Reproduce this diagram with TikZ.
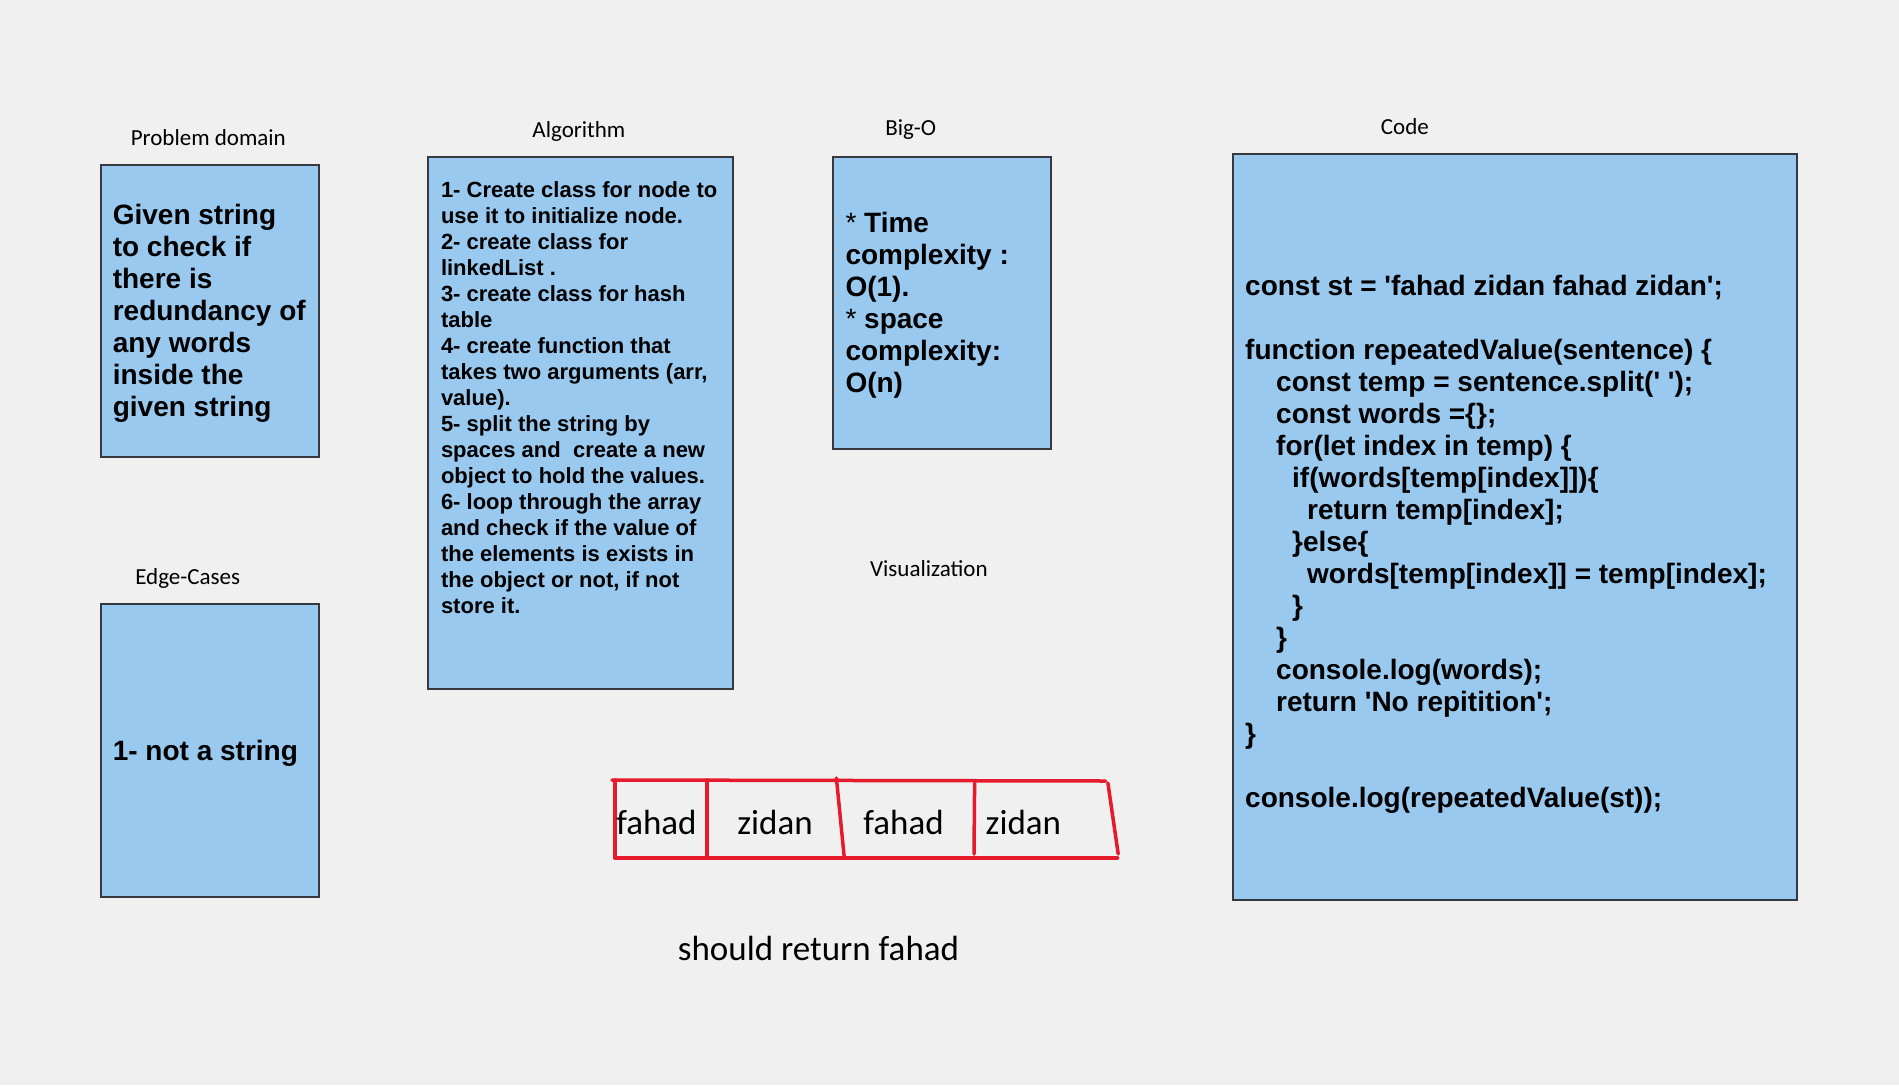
\documentclass[tikz,border=0pt]{standalone}
\usepackage{fontspec}
\setmainfont{Liberation Sans}
\newfontfamily\handfont{Carlito}
\usetikzlibrary{positioning}

\definecolor{boxblue}{HTML}{99C9EE}
\definecolor{boxline}{HTML}{36393D}
\definecolor{bggray}{HTML}{F0F0F0}
\definecolor{cellred}{HTML}{E51A2C}
\newcommand{\codeind}[1]{\hspace*{#1pt}}

\tikzset{
  panel/.style={draw=boxline, line width=2pt, fill=boxblue, inner sep=0pt},
  paneltext/.style={anchor=west, align=left, inner sep=0pt, font=\bfseries\fontsize{28}{32}\selectfont},
  title/.style={font=\handfont\fontsize{23}{27}\selectfont},
  cellword/.style={font=\handfont\fontsize{35}{40}\selectfont},
  cellline/.style={draw=cellred, line width=3.5pt, line cap=round}
}

\begin{document}
\begin{tikzpicture}[x=1pt,y=-1pt]
            \fill[bggray] (0,0) rectangle (1899,1085);
            \useasboundingbox (0,0) rectangle (1899,1085);

            \node[panel, minimum width=218, minimum height=292] (problem) at (209.5,310.6) {};
            \node[panel, minimum width=218, minimum height=293] (edge) at (209.5,750.9) {};
            \node[panel, minimum width=305, minimum height=532] (algo) at (580.1,423.3) {};
            \node[panel, minimum width=218, minimum height=292] (bigo) at (942.2,303.4) {};
            \node[panel, minimum width=564, minimum height=746] (code) at (1515.1,526.9) {};

            \node[title] (problemtitle) at (208.3,137.5) {Problem domain};
            \node[title] (edgetitle) at (187.7,578.5) {Edge-Cases};
            \node[title] (algotitle) at (578.9,131.5) {Algorithm};
            \node[title] (bigotitle) at (910.7,129.5) {Big-O};
            \node[title] (codetitle) at (1404.9,127) {Code};
            \node[title] (vistitle) at (928.9,569) {Visualization};

            \node[paneltext] (problemtext) at (112.6,313.8) {Given string\\to check if\\there is\\redundancy of\\any words\\inside the\\given string};
            \node[paneltext] (edgetext) at (112.6,753.2) {1- not a string};
            \node[paneltext, font=\bfseries\fontsize{22}{26}\selectfont] (algotext) at (440.8,397.2) {1- Create class for node to\\use it to initialize node.\\2- create class for\\linkedList .\\3- create class for hash\\table\\4- create function that\\takes two arguments (arr,\\value).\\5- split the string by\\spaces and\ \ create a new\\object to hold the values.\\6- loop through the array\\and check if the value of\\the elements is exists in\\the object or not, if not\\store it.};
            \node[paneltext] (bigotext) at (845.3,305.3) {{\mdseries *} Time\\complexity :\\O(1).\\{\mdseries *} space\\complexity:\\O(n)};
            \node[paneltext] (codetext) at (1245,544.5) {const st = \textquotesingle fahad zidan fahad zidan\textquotesingle;\\[32pt]
function repeatedValue(sentence) \{\\
\codeind{31}const temp = sentence.split(\textquotesingle\ \textquotesingle);\\
\codeind{31}const words =\{\};\\
\codeind{31}for(let index in temp) \{\\
\codeind{47}if(words[temp[index]])\{\\
\codeind{62}return temp[index];\\
\codeind{47}\}else\{\\
\codeind{62}words[temp[index]] = temp[index];\\
\codeind{47}\}\\
\codeind{31}\}\\
\codeind{31}console.log(words);\\
\codeind{31}return \textquotesingle No repitition\textquotesingle;\\
\}\\[32pt]
console.log(repeatedValue(st));};

            \draw[cellline] (612,780) -- (1105.7,781);
            \draw[cellline] (615,858) -- (1117.5,858);
            \draw[cellline] (615,780) -- (615,858);
            \draw[cellline] (706.8,780) -- (706.8,858);
            \draw[cellline] (836.4,778) -- (844.3,858);
            \draw[cellline] (974.6,783) -- (974,854);
            \draw[cellline] (1107.9,783) -- (1118.2,854);

            \node[cellword] (fahadA) at (656.4,822.3) {fahad};
            \node[cellword] (zidanA) at (775,822.3) {zidan};
            \node[cellword] (fahadB) at (903.5,822.3) {fahad};
            \node[cellword] (zidanB) at (1023.4,822.3) {zidan};

            \node[cellword] (result) at (818.5,948) {should return fahad};
        \end{tikzpicture}
\end{document}
